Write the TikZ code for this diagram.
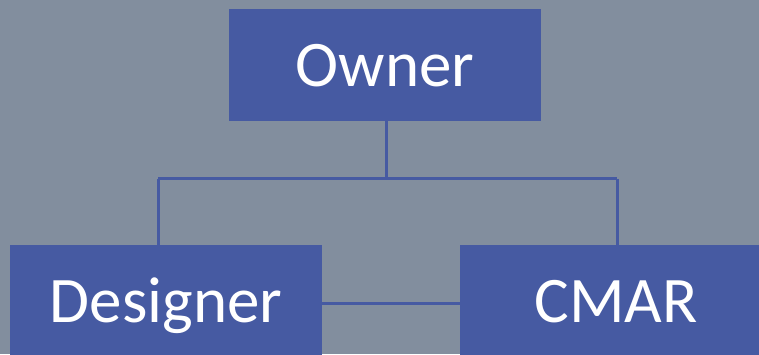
\documentclass[tikz,border=0pt]{standalone}
\usepackage{fontspec}
\setmainfont{Carlito}
\usepackage{xcolor}
\definecolor{bgColor}{HTML}{828E9E}
\definecolor{boxColor}{HTML}{465AA2}
\definecolor{linkColor}{HTML}{465AA2}
\tikzset{
  rolebox/.style={fill=boxColor, text=white, inner sep=0pt,
    minimum width=312bp, minimum height=112bp,
    text height=42bp, text depth=0pt, font=\fontsize{65bp}{65bp}\selectfont},
  link/.style={draw=linkColor, line width=3bp}
}

\begin{document}
\begin{tikzpicture}[x=1bp,y=-1bp]

% background
\useasboundingbox (0, 0) rectangle (759, 354);
\clip (0, 0) rectangle (759, 354);
\fill[bgColor] (0, 0) rectangle (759, 354);

% boxes
\node[rolebox] (owner) at (385, 65) {Owner};
\node[rolebox] (designer) at (166, 301) {Designer};
\node[rolebox] (cmar) at (616, 301) {CMAR};

% links
\coordinate (split) at (386, 178.5);
\coordinate (leftdrop) at (158, 178.5);
\coordinate (rightdrop) at (617, 178.5);
\draw[link] (owner.south -| split) -- (split);
\draw[link] (leftdrop) -- (rightdrop);
\draw[link] (leftdrop) -- (leftdrop |- designer.north);
\draw[link] (rightdrop) -- (rightdrop |- cmar.north);
\draw[link] ([yshift=-2bp]designer.east) -- ([yshift=-2bp]cmar.west);

\end{tikzpicture}
\end{document}
